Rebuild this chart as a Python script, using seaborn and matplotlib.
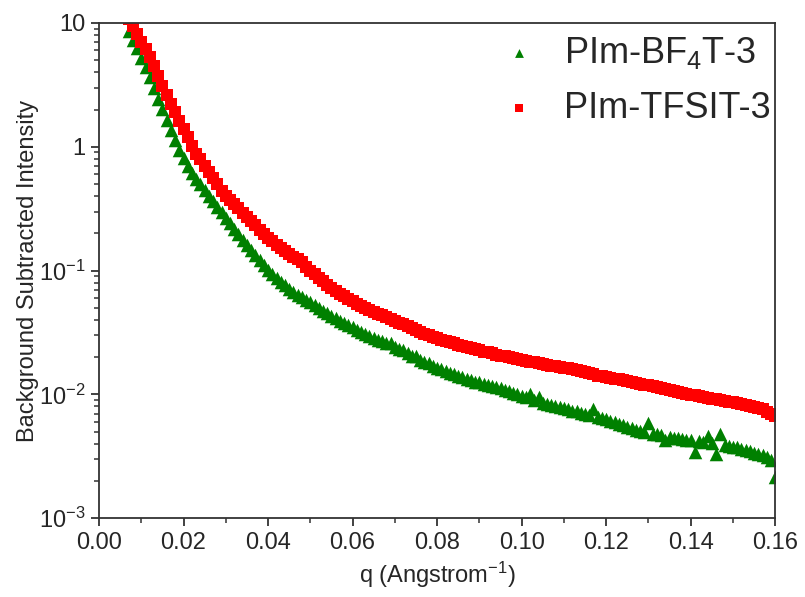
import numpy as np
import pandas as pd
import seaborn as sns
import matplotlib.pyplot as plt
from matplotlib.ticker import MultipleLocator, LogLocator, NullFormatter

# q grid (1/Angstrom)
q = [round(0.007 + 0.001 * i, 3) for i in range(154)]

# PIm-BF4T-3 (green triangles)
bf4 = [
    8.61, 7.35, 6.28, 5.25, 4.39, 3.64, 2.99, 2.45, 2.02, 1.66,
    1.37, 1.13, 0.936, 0.807, 0.700, 0.617, 0.554, 0.500, 0.450, 0.404,
    0.365, 0.329, 0.298, 0.268, 0.242, 0.218, 0.198, 0.178, 0.161, 0.146,
    0.133, 0.121, 0.111, 0.101, 0.0937, 0.0872, 0.0813, 0.0758, 0.0706, 0.0670,
    0.0638, 0.0609, 0.0582, 0.0554, 0.0527, 0.0500, 0.0476, 0.0452, 0.0431, 0.0412,
    0.0395, 0.0378, 0.0362, 0.0348, 0.0334, 0.0321, 0.0309, 0.0297, 0.0287, 0.0277,
    0.0268, 0.0259, 0.0258, 0.0241, 0.0232, 0.0229, 0.0215, 0.0206, 0.0204, 0.0191,
    0.0183, 0.0180, 0.0169, 0.0164, 0.0160, 0.0155, 0.0150, 0.0146, 0.0142, 0.0137,
    0.0133, 0.0130, 0.0127, 0.0125, 0.0122, 0.0120, 0.0117, 0.0115, 0.0112, 0.0109,
    0.0106, 0.0103, 0.0100, 0.00972, 0.00944, 0.0100, 0.00893, 0.00960, 0.00857, 0.00840,
    0.00822, 0.00805, 0.00789, 0.00773, 0.00757, 0.00741, 0.00728, 0.00714, 0.00700, 0.00687,
    0.00760, 0.00662, 0.00647, 0.00629, 0.00612, 0.00596, 0.00581, 0.00565, 0.00549, 0.00534,
    0.00519, 0.00508, 0.00500, 0.00590, 0.00483, 0.00475, 0.00468, 0.00430, 0.00452, 0.00448,
    0.00442, 0.00437, 0.00432, 0.00426, 0.00340, 0.00417, 0.00411, 0.00460, 0.00402, 0.00330,
    0.00480, 0.00388, 0.00383, 0.00379, 0.00375, 0.00365, 0.00356, 0.00347, 0.00338, 0.00329,
    0.00321, 0.00313, 0.00294, 0.00214,
]

# PIm-TFSIT-3 (red squares)
tfsi = [
    10.8, 9.39, 8.18, 7.08, 6.17, 5.27, 4.51, 3.75, 3.11, 2.61,
    2.23, 1.90, 1.63, 1.39, 1.19, 1.01, 0.879, 0.791, 0.706, 0.627,
    0.557, 0.496, 0.441, 0.402, 0.372, 0.344, 0.318, 0.293, 0.271, 0.251,
    0.232, 0.214, 0.198, 0.185, 0.173, 0.162, 0.152, 0.143, 0.136, 0.129,
    0.123, 0.117, 0.107, 0.100, 0.0938, 0.0878, 0.0822, 0.0769, 0.0723, 0.0688,
    0.0653, 0.0620, 0.0590, 0.0564, 0.0542, 0.0521, 0.0501, 0.0482, 0.0466, 0.0450,
    0.0434, 0.0420, 0.0406, 0.0393, 0.0380, 0.0367, 0.0355, 0.0343, 0.0332, 0.0321,
    0.0310, 0.0300, 0.0290, 0.0284, 0.0277, 0.0271, 0.0265, 0.0258, 0.0252, 0.0247,
    0.0241, 0.0236, 0.0231, 0.0227, 0.0222, 0.0218, 0.0214, 0.0210, 0.0206, 0.0203,
    0.0199, 0.0196, 0.0193, 0.0190, 0.0187, 0.0184, 0.0181, 0.0178, 0.0175, 0.0173,
    0.0171, 0.0169, 0.0166, 0.0164, 0.0162, 0.0159, 0.0157, 0.0154, 0.0151, 0.0148,
    0.0145, 0.0142, 0.0140, 0.0138, 0.0136, 0.0134, 0.0132, 0.0130, 0.0128, 0.0126,
    0.0124, 0.0122, 0.0120, 0.0118, 0.0116, 0.0114, 0.0112, 0.0110, 0.0108, 0.0107,
    0.0105, 0.0103, 0.0101, 0.00998, 0.00981, 0.00964, 0.00950, 0.00936, 0.00924, 0.00910,
    0.00899, 0.00886, 0.00874, 0.00861, 0.00850, 0.00836, 0.00822, 0.00808, 0.00794, 0.00780,
    0.00757, 0.00726, 0.00697, 0.00667,
]

labels = ["PIm-BF$_4$T-3", "PIm-TFSIT-3"]
colors = ["#008000", "#ff0000"]
markers = ["^", "s"]
yticks = [1e-3, 1e-2, 1e-1, 1, 10]
ytick_labels = ["10$^{-3}$", "10$^{-2}$", "10$^{-1}$", "1", "10"]

sns.set_style("ticks")
plt.rcParams['font.family'] = ['Liberation Sans', 'DejaVu Sans']
plt.rcParams['mathtext.default'] = 'regular'

df = pd.DataFrame({
    'q': q + q,
    'I': bf4 + tfsi,
    'sample': [labels[0]] * len(q) + [labels[1]] * len(q),
})

fig = plt.figure(figsize=(8.05, 5.97), dpi=100)
ax = fig.add_axes([0.123, 0.132, 0.840, 0.8295])

for lab, col, mk, sz in zip(labels, colors, markers, [95, 65]):
    sns.scatterplot(data=df[df['sample'] == lab], x='q', y='I', color=col,
                    marker=mk, s=sz, linewidth=0, label=lab, ax=ax)

ax.set_yscale('log')
ax.set_xlim(0, 0.16)
ax.set_ylim(1e-3, 10)
ax.set_yticks(yticks)
ax.set_yticklabels(ytick_labels)
ax.yaxis.set_minor_locator(LogLocator(base=10, subs=np.arange(2, 10)))
ax.yaxis.set_minor_formatter(NullFormatter())
ax.xaxis.set_minor_locator(MultipleLocator(0.01))
ax.set_xticks(np.arange(0, 0.161, 0.02))
ax.set_xticklabels([f"{v:.2f}" for v in np.arange(0, 0.161, 0.02)])

for s in ax.spines.values():
    s.set_color('#333333')
    s.set_linewidth(1.3)
ax.tick_params(which='major', direction='out', length=6, width=1.3,
               color='#333333', labelsize=17, pad=4)
ax.tick_params(which='minor', direction='out', length=3.5, width=1.1, color='#333333')

ax.set_xlabel("q (Angstrom$^{-1}$)", fontsize=17, labelpad=4)
ax.set_ylabel("Background Subtracted Intensity", fontsize=17, labelpad=0)

leg = ax.legend(loc='upper right', bbox_to_anchor=(1.015, 1.005), frameon=False,
                fontsize=26, markerscale=0.65, handletextpad=0.65,
                labelspacing=0.55, borderaxespad=0.0, handlelength=1.2)

fig.savefig("out.png", dpi=100)
